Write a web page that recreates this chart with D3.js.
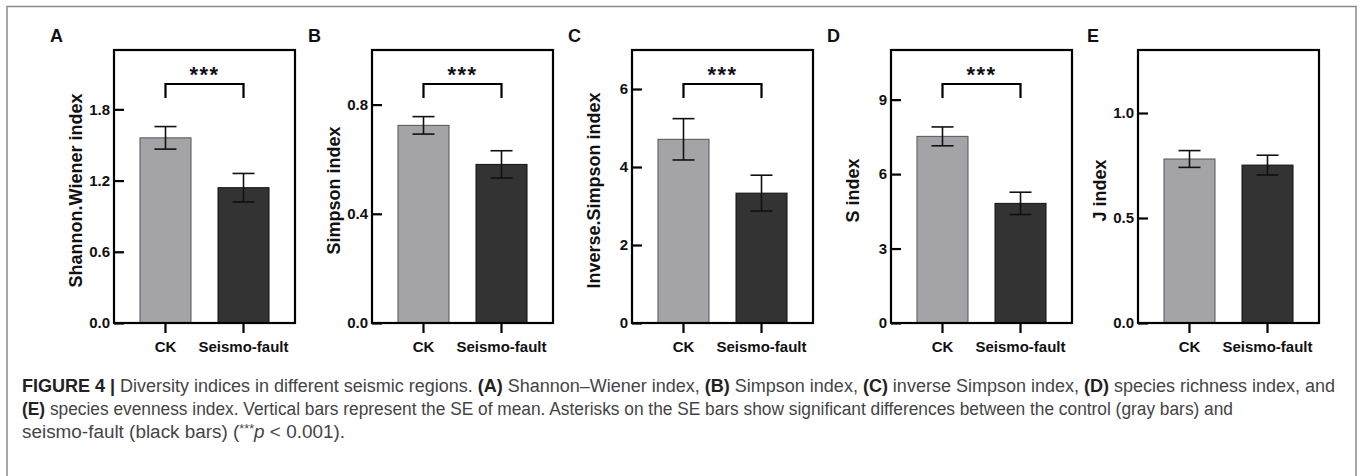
<!DOCTYPE html>
<html>
<head>
<meta charset="utf-8">
<script src="https://cdn.jsdelivr.net/npm/d3@7"></script>
<style>
  html, body { margin: 0; padding: 0; background: #fff; }
  svg { display: block; }
</style>
</head>
<body>
<div id="chart"></div>
<script>
// DATA
var groups = ["CK", "Seismo-fault"];
var panelIds = ["A", "B", "C", "D", "E"];
var yTitles = ["Shannon.Wiener index", "Simpson index", "Inverse.Simpson index", "S index", "J index"];
var yMax = [2.3, 1.0, 7, 11, 1.3];
var yTicks = [[0, 0.6, 1.2, 1.8], [0, 0.4, 0.8], [0, 2, 4, 6], [0, 3, 6, 9], [0, 0.5, 1.0]];
var yFormats = [".1f", ".1f", "d", "d", ".1f"];
var ckMean = [1.56, 0.724, 4.71, 7.52, 0.781];
var ckSE = [0.095, 0.032, 0.53, 0.38, 0.04];
var faultMean = [1.14, 0.581, 3.33, 4.82, 0.752];
var faultSE = [0.12, 0.05, 0.46, 0.45, 0.047];
var sigMarks = ["***", "***", "***", "***", ""];

var captionLines = [
   [["FIGURE 4 | ", true], ["Diversity indices in different seismic regions. ", false], ["(A)", true], [" Shannon\u2013Wiener index, ", false], ["(B)", true], [" Simpson index, ", false], ["(C)", true], [" inverse Simpson index, ", false], ["(D)", true], [" species richness index, and", false]],
   [["(E)", true], [" species evenness index. Vertical bars represent the SE of mean. Asterisks on the SE bars show significant differences between the control (gray bars) and", false]],
   [["seismo-fault (black bars) (", false], ["***", false, "sup"], ["p", false, "it"], [" < 0.001).", false]]
];

// SETTINGS
var settings = {
   width: 1360,
   height: 476,
   lefts: [114, 372, 632, 891, 1138],
   plotW: 181,
   top: 50,
   bottom: 323,
   fill: ["#a4a4a8", "#333333"],
   stroke: ["#555555", "#111111"],
   font: "'Liberation Sans', Arial, sans-serif"
};

var svg = d3.select('#chart').append('svg')
   .attr('width', settings.width)
   .attr('height', settings.height)

// OUTER FRAME
svg.append('path')
   .attr('d', 'M7,' + (settings.height + 2) + 'V6.5H1356V' + (settings.height + 2))
   .attr('fill', 'none')
   .attr('stroke', '#8a8a8a')
   .attr('stroke-width', 1.5)

// DRAW ONE PANEL
function panel(i) {
   var left = settings.lefts[i];
   var g = svg.append('g').attr('font-family', settings.font);

   var y = d3.scaleLinear()
      .domain([0, yMax[i]])
      .range([settings.bottom, settings.top])

   var x = d3.scaleBand()
      .domain(groups)
      .range([left, left + settings.plotW])
      .paddingInner(0.346)
      .paddingOuter(0.333)

   var rows = [
      { g: groups[0], m: ckMean[i], se: ckSE[i], k: 0 },
      { g: groups[1], m: faultMean[i], se: faultSE[i], k: 1 }
   ];

   // BARS
   g.selectAll('rect.bar')
      .data(rows)
      .enter().append('rect')
         .attr('class', 'bar')
         .attr('x', d => x(d.g))
         .attr('y', d => y(d.m))
         .attr('width', x.bandwidth())
         .attr('height', d => y(0) - y(d.m))
         .attr('fill', d => settings.fill[d.k])
         .attr('stroke', d => settings.stroke[d.k])
         .attr('stroke-width', 1)

   // ERROR BARS
   var cx = d => x(d.g) + x.bandwidth() / 2;
   var err = g.selectAll('g.err')
      .data(rows)
      .enter().append('g')
         .attr('class', 'err')
         .attr('stroke', '#111')
         .attr('stroke-width', 1.6)
   err.append('line')
      .attr('x1', cx).attr('x2', cx)
      .attr('y1', d => y(d.m + d.se)).attr('y2', d => y(d.m - d.se))
   err.append('line')
      .attr('x1', d => cx(d) - 11).attr('x2', d => cx(d) + 11)
      .attr('y1', d => y(d.m + d.se)).attr('y2', d => y(d.m + d.se))
   err.append('line')
      .attr('x1', d => cx(d) - 11).attr('x2', d => cx(d) + 11)
      .attr('y1', d => y(d.m - d.se)).attr('y2', d => y(d.m - d.se))

   // FRAME
   g.append('rect')
      .attr('x', left)
      .attr('y', settings.top)
      .attr('width', settings.plotW)
      .attr('height', settings.bottom - settings.top)
      .attr('fill', 'none')
      .attr('stroke', '#000')
      .attr('stroke-width', 2.2)

   // Y AXIS -- TICKS POINT INWARD
   var yAxis = g.append('g')
      .attr('transform', 'translate(' + left + ',0)')
      .call(d3.axisLeft(y).tickValues(yTicks[i]).tickFormat(d3.format(yFormats[i])).tickSize(-10).tickPadding(4))
   yAxis.select('.domain').remove()
   yAxis.selectAll('.tick line').attr('stroke', '#000').attr('stroke-width', 2.2)
   yAxis.selectAll('.tick text')
      .attr('x', -4)
      .attr('font-size', 15)
      .attr('font-weight', 'bold')
      .attr('font-family', settings.font)
      .attr('fill', '#111')

   // X AXIS
   var xAxis = g.append('g')
      .attr('transform', 'translate(0,' + settings.bottom + ')')
      .call(d3.axisBottom(x).tickSize(10).tickPadding(8))
   xAxis.select('.domain').remove()
   xAxis.selectAll('.tick line').attr('stroke', '#000').attr('stroke-width', 2.2)
   xAxis.selectAll('.tick text')
      .attr('font-size', 15)
      .attr('font-weight', 'bold')
      .attr('font-family', settings.font)
      .attr('fill', '#111')

   // Y TITLE
   g.append('text')
      .attr('transform', 'translate(' + (left - 32) + ',' + ((settings.top + settings.bottom) / 2 + 4) + ') rotate(-90)')
      .attr('text-anchor', 'middle')
      .attr('font-size', 18)
      .attr('font-weight', 'bold')
      .attr('fill', '#111')
      .text(yTitles[i])

   // PANEL LETTER
   g.append('text')
      .attr('x', left - (i === 4 ? 51 : 64))
      .attr('y', 42)
      .attr('font-size', 18)
      .attr('font-weight', 'bold')
      .attr('fill', '#111')
      .text(panelIds[i])

   // SIGNIFICANCE BRACKET
   if (sigMarks[i]) {
      var x0 = cx(rows[0]), x1 = cx(rows[1]);
      g.append('path')
         .attr('d', 'M' + x0 + ',98V84H' + x1 + 'V98')
         .attr('fill', 'none')
         .attr('stroke', '#000')
         .attr('stroke-width', 2.2)
      g.append('text')
         .attr('x', (x0 + x1) / 2)
         .attr('y', 82)
         .attr('text-anchor', 'middle')
         .attr('font-size', 22)
         .attr('font-weight', 'bold')
         .attr('letter-spacing', 1.5)
         .attr('fill', '#111')
         .text(sigMarks[i])
   }
}

panelIds.forEach((d, i) => panel(i));

// CAPTION
var caption = svg.append('g')
   .attr('font-family', settings.font)
   .attr('font-size', 18)
   .attr('fill', '#444')

var lineY = [392, 415, 438];
var lineW = [1313, 1211, 323];
captionLines.forEach((segs, li) => {
   var t = caption.append('text')
      .attr('x', 22)
      .attr('y', lineY[li])
      .attr('textLength', lineW[li])
      .attr('lengthAdjust', 'spacingAndGlyphs')
   segs.forEach(s => {
      var ts = t.append('tspan')
         .attr('font-weight', s[1] ? 'bold' : 'normal')
         .attr('fill', s[1] ? '#222' : '#444')
         .text(s[0])
      if (s[2] === 'it') ts.attr('font-style', 'italic').attr('dy', 5)
      if (s[2] === 'sup') ts.attr('font-size', 12).attr('dy', -5)
   })
})
</script>
</body>
</html>
